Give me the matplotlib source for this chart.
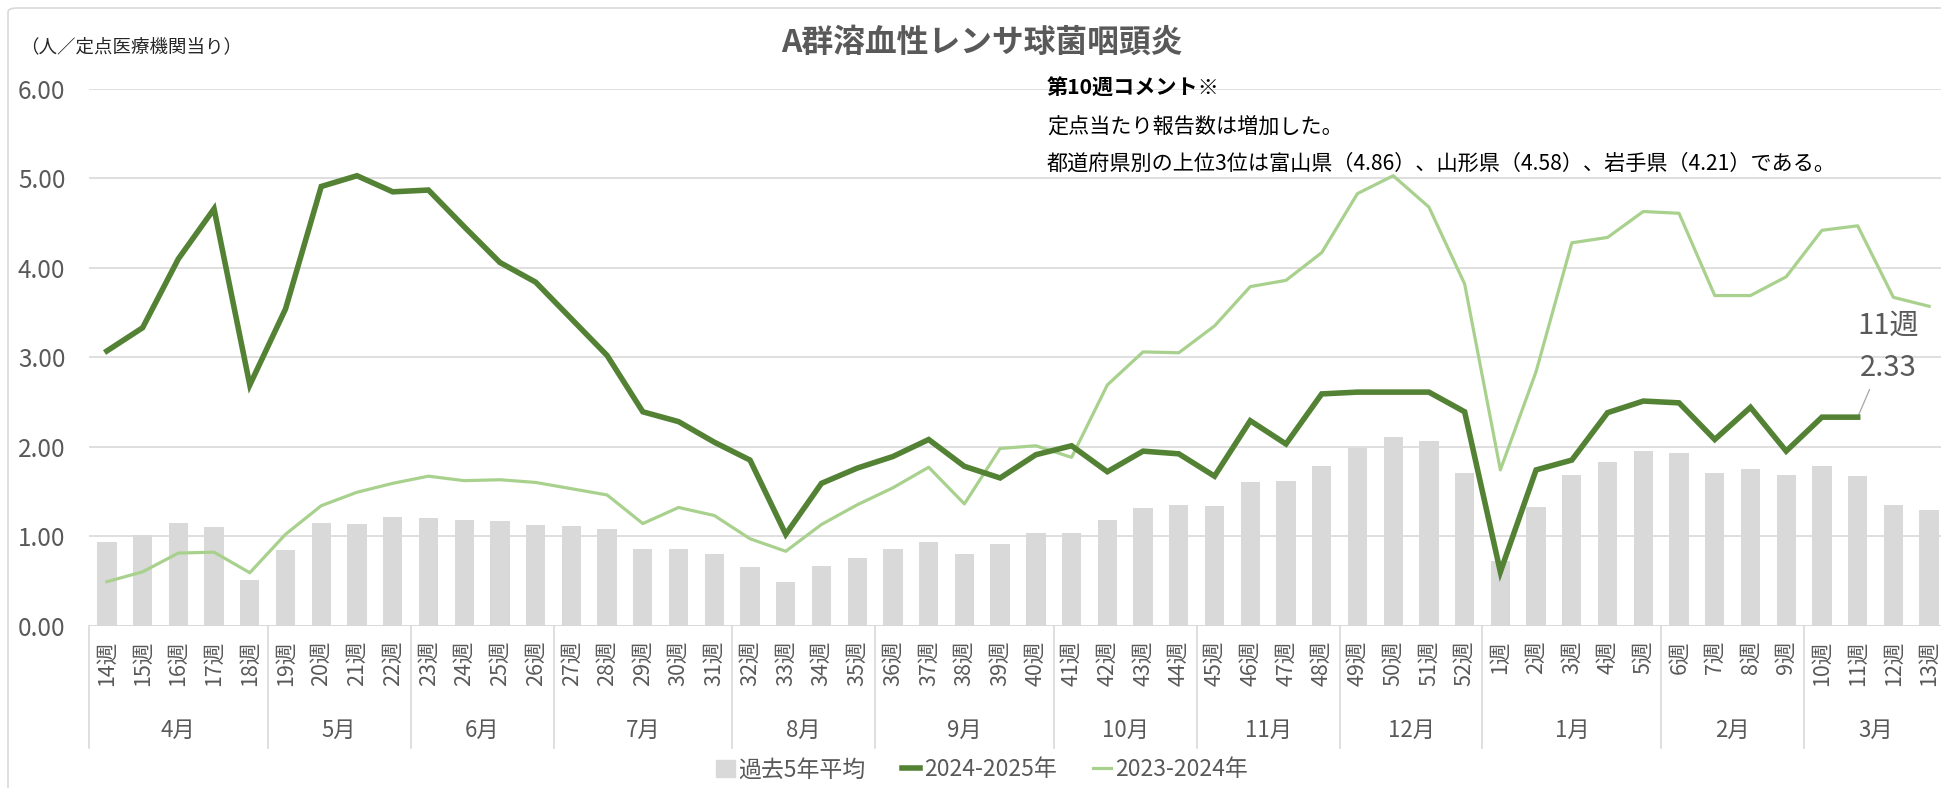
import matplotlib
matplotlib.use('Agg')
import matplotlib.pyplot as plt
from matplotlib.patches import Patch, FancyBboxPatch
from matplotlib.lines import Line2D

plt.rcParams['font.family'] = ['Noto Sans CJK JP', 'DejaVu Sans']

weeks = [14, 15, 16, 17, 18, 19, 20, 21, 22, 23, 24, 25, 26, 27, 28, 29, 30, 31,
         32, 33, 34, 35, 36, 37, 38, 39, 40, 41, 42, 43, 44, 45, 46, 47, 48, 49,
         50, 51, 52, 1, 2, 3, 4, 5, 6, 7, 8, 9, 10, 11, 12, 13]
week_labels = [str(w) + '週' for w in weeks]
months = ['4月', '5月', '6月', '7月', '8月', '9月', '10月', '11月', '12月', '1月', '2月', '3月']
month_weeks = [5, 4, 4, 5, 4, 5, 4, 4, 4, 5, 4, 4]

avg5 = [0.93, 1.01, 1.15, 1.10, 0.51, 0.84, 1.15, 1.13, 1.21, 1.20, 1.18, 1.17, 1.12,
        1.11, 1.08, 0.85, 0.85, 0.80, 0.65, 0.49, 0.67, 0.75, 0.85, 0.93, 0.80, 0.91,
        1.04, 1.03, 1.18, 1.31, 1.35, 1.34, 1.61, 1.62, 1.78, 1.99, 2.11, 2.06, 1.70,
        0.72, 1.32, 1.68, 1.83, 1.95, 1.93, 1.70, 1.75, 1.68, 1.78, 1.67, 1.35, 1.29]
y2024 = [3.07, 3.33, 4.10, 4.66, 2.69, 3.54, 4.91, 5.03, 4.85, 4.87, 4.46, 4.06, 3.84,
         3.43, 3.02, 2.39, 2.28, 2.05, 1.85, 1.02, 1.59, 1.76, 1.89, 2.08, 1.78, 1.65,
         1.91, 2.01, 1.72, 1.95, 1.92, 1.67, 2.29, 2.03, 2.59, 2.61, 2.61, 2.61, 2.39,
         0.60, 1.74, 1.85, 2.38, 2.51, 2.49, 2.08, 2.44, 1.95, 2.33, 2.33, None, None]
y2023 = [0.49, 0.60, 0.81, 0.82, 0.59, 1.02, 1.34, 1.49, 1.59, 1.67, 1.62, 1.63, 1.60,
         1.53, 1.46, 1.14, 1.32, 1.23, 0.97, 0.83, 1.13, 1.35, 1.54, 1.77, 1.36, 1.98,
         2.01, 1.88, 2.69, 3.06, 3.05, 3.35, 3.79, 3.86, 4.17, 4.83, 5.03, 4.68, 3.82,
         1.74, 2.84, 4.28, 4.34, 4.63, 4.61, 3.69, 3.69, 3.90, 4.42, 4.47, 3.67, 3.57]

comment_title = '第10週コメント※'
comment_lines = ['定点当たり報告数は増加した。',
                 '都道府県別の上位3位は富山県（4.86）、山形県（4.58）、岩手県（4.21）である。']

W, H = 1941, 788
gray_txt = '#595959'
grid_c = '#D9D9D9'
dark = '#548235'
light = '#A9D18E'

fig = plt.figure(figsize=(W / 100, H / 100), dpi=100)
fig.patches.append(FancyBboxPatch((8 / W, -0.1), 1.2, 1.1 - 8 / H,
                                  boxstyle='round,pad=0,rounding_size=0.005',
                                  transform=fig.transFigure, fc='none', ec=grid_c, lw=1.2))

left, right, bot, top = 89, 1947, 625.5, 89
ax = fig.add_axes([left / W, (H - bot) / H, (right - left) / W, (bot - top) / H])
x = list(range(len(weeks)))

ax.bar(x, avg5, width=0.54, color=grid_c, zorder=2)
ax.plot(x, [v if v is not None else float('nan') for v in y2023], color=light, lw=2.3, zorder=3)
ax.plot(x, [v if v is not None else float('nan') for v in y2024], color=dark, lw=4,
        solid_joinstyle='miter', zorder=4)

ax.set_xlim(-0.5, len(weeks) - 0.5)
ax.set_ylim(0, 6)
ax.set_yticks([0, 1, 2, 3, 4, 5, 6])
ax.set_yticklabels(['%.2f' % v for v in range(7)], fontsize=17.5, color=gray_txt)
ax.yaxis.grid(True, color=grid_c, lw=1.2, zorder=0)
ax.tick_params(axis='y', length=0, pad=17)
for s in ax.spines.values():
    s.set_visible(False)
ax.axhline(0, color=grid_c, lw=1.2, zorder=1)

ax.set_xticks(x)
ax.set_xticklabels(week_labels, rotation=90, fontsize=15.5, color=gray_txt)
ax.tick_params(axis='x', length=0, pad=11)

trans = ax.get_xaxis_transform()
axh = bot - top
sep_y = -(748 - bot) / axh
mon_y = -(730.5 - bot) / axh
start = 0
ax.plot([-0.5, -0.5], [0, sep_y], color=grid_c, lw=1.2, transform=trans, clip_on=False)
for m, n in zip(months, month_weeks):
    end = start + n
    ax.plot([end - 0.5, end - 0.5], [0, sep_y], color=grid_c, lw=1.2, transform=trans, clip_on=False)
    ax.text((start + end - 1) / 2, mon_y, m, transform=trans, ha='center', va='center',
            fontsize=16, color=gray_txt)
    start = end

# data label for the latest week
ax.annotate('11週\n2.33', xy=(49, y2024[49]), xytext=(49.85, 3.12), ha='center', va='center',
            fontsize=21, color=gray_txt, linespacing=1.55,
            arrowprops=dict(arrowstyle='-', color='#A6A6A6', lw=0.9, shrinkA=3, shrinkB=0))

fig.text(982 / W, 1 - 43 / H, 'A群溶血性レンサ球菌咽頭炎', ha='center', va='center',
         fontsize=22.9, fontweight='bold', color=gray_txt)
fig.text(20 / W, 1 - 47 / H, '（人／定点医療機関当り）', ha='left', va='center',
         fontsize=13.3, color='#262626')
fig.text(1047 / W, 1 - 88 / H, comment_title, ha='left', va='center', fontsize=15.2,
         fontweight='bold', color='black')
fig.text(1047 / W, 1 - 127 / H, comment_lines[0], ha='left', va='center', fontsize=15.2, color='black')
fig.text(1047 / W, 1 - 164 / H, comment_lines[1], ha='left', va='center', fontsize=15.2, color='black')

handles = [Patch(color=grid_c, label='過去5年平均'),
           Line2D([], [], color=dark, lw=4, label='2024-2025年'),
           Line2D([], [], color=light, lw=2.3, label='2023-2024年')]
fig.legend(handles=handles, loc='center', bbox_to_anchor=(982 / W, 1 - 770 / H), ncol=3,
           frameon=False, fontsize=16.5, handlelength=0.8, handleheight=0.7,
           handletextpad=0.15, columnspacing=1.6, labelcolor=gray_txt)

fig.savefig('out.png', dpi=100)
